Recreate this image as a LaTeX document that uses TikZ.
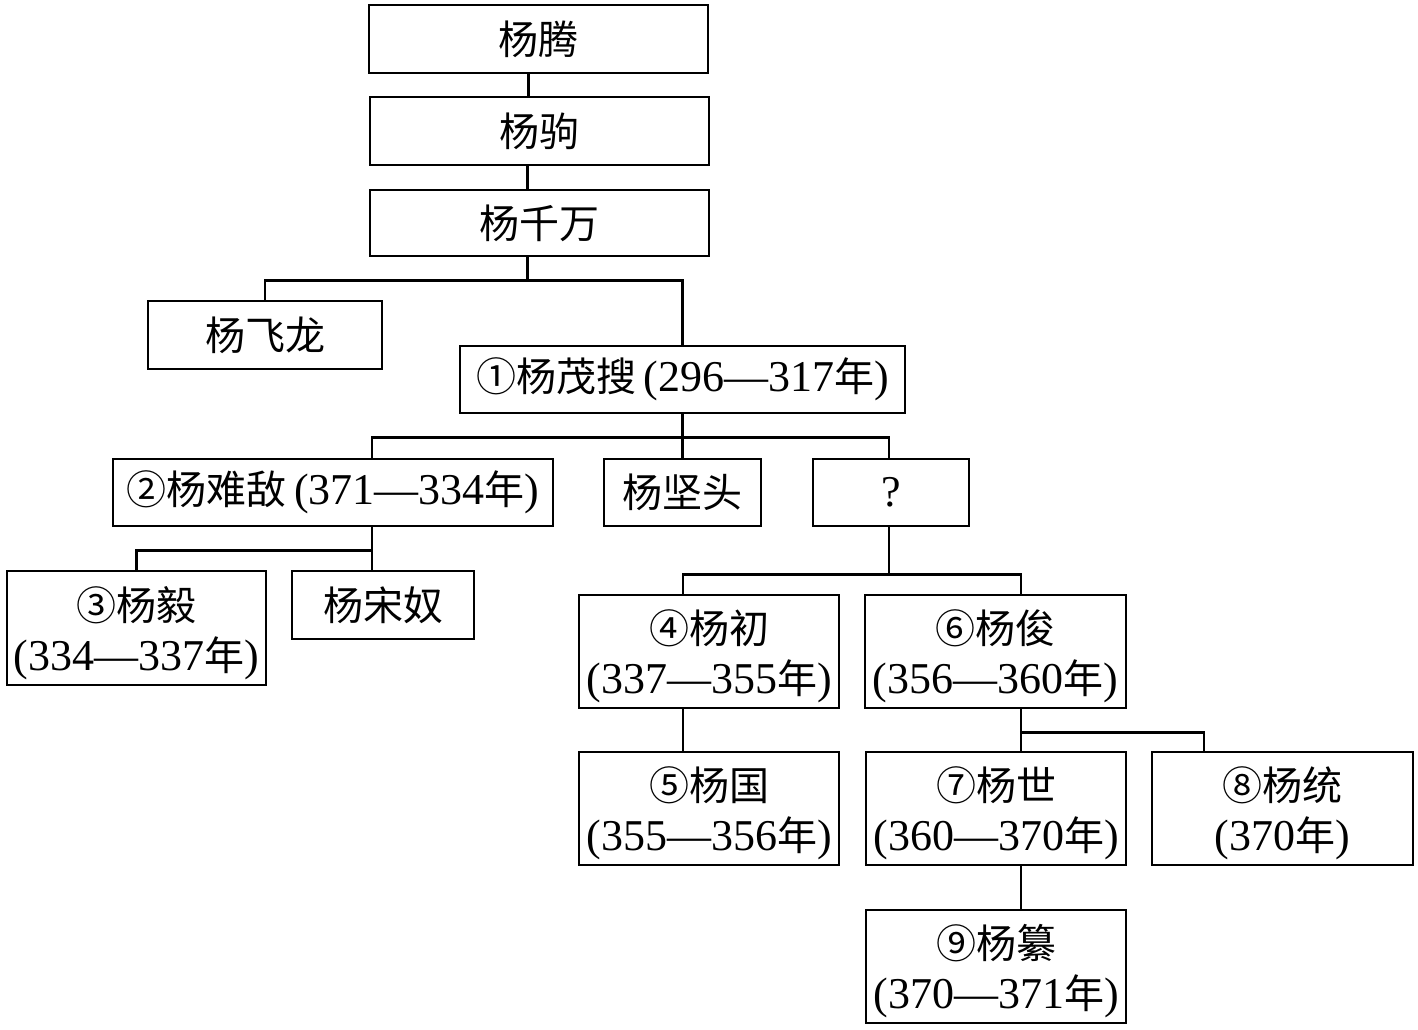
\documentclass[tikz,border=0pt]{standalone}
\usepackage{fontspec}
\setmainfont{Liberation Serif}
\newfontfamily\cjk{Noto Sans CJK SC}
\newcommand{\N}[1]{{\rmfamily\fontsize{44}{50}\selectfont #1}}
\newcommand{\T}{\rule{0pt}{44pt}}
\tikzset{
  bx/.style={draw, line width=2.6pt, inner sep=0pt, align=center, font=\fontsize{40}{50}\selectfont\cjk},
  ln/.style={line width=2.6pt}
}
\begin{document}
\begin{tikzpicture}[x=1pt,y=-1pt]
\useasboundingbox (0,0) rectangle (1418,1029);
\node[bx, minimum width=339, minimum height=68] (teng) at (538.5,39) {杨腾};
\node[bx, minimum width=339, minimum height=68] (ju) at (539.5,131) {杨驹};
\node[bx, minimum width=339, minimum height=66] (qw) at (539.5,223) {杨千万};
\node[bx, minimum width=234, minimum height=68] (fl) at (265,335) {杨飞龙};
\node[bx, minimum width=445, minimum height=67] (ms) at (682.5,379.5) {①杨茂搜\N{\,(296—317}年\N{)}};
\node[bx, minimum width=440, minimum height=67] (nd) at (333,492.5) {②杨难敌\N{\,(371—334}年\N{)}};
\node[bx, minimum width=157, minimum height=67] (jt) at (682.5,492.5) {杨坚头};
\node[bx, minimum width=156, minimum height=67] (q) at (891,492.5) {\N{?}};
\node[bx, minimum width=259, minimum height=114] (yi) at (136.5,628) {\T③杨毅\\\N{(334—337}年\N{)}};
\node[bx, minimum width=182, minimum height=68] (sn) at (383,605) {杨宋奴};
\node[bx, minimum width=260, minimum height=113] (chu) at (709,651.5) {\T④杨初\\\N{(337—355}年\N{)}};
\node[bx, minimum width=261, minimum height=113] (jun) at (995.5,651.5) {\T⑥杨俊\\\N{(356—360}年\N{)}};
\node[bx, minimum width=260, minimum height=113] (guo) at (709,808.5) {\T⑤杨国\\\N{(355—356}年\N{)}};
\node[bx, minimum width=260, minimum height=113] (shi) at (996,808.5) {\T⑦杨世\\\N{(360—370}年\N{)}};
\node[bx, minimum width=261, minimum height=113] (tong) at (1282.5,808.5) {\T⑧杨统\\\N{(370}年\N{)}};
\node[bx, minimum width=260, minimum height=113] (zuan) at (996,966.5) {\T⑨杨纂\\\N{(370—371}年\N{)}};
% connectors
\draw[ln] ([xshift=-10]teng.south) -- ([xshift=-11]ju.north);
\draw[ln] ([xshift=-12]ju.south) -- ([xshift=-12]qw.north);
\draw[ln] ([xshift=-12]qw.south) -- ++(0,23) -| (fl.north);
\draw[ln] ([xshift=-12]qw.south) -- ++(0,23) -| (ms.north);
\draw[ln] (ms.south) -- ++(0,23) -| ([xshift=39]nd.north);
\draw[ln] (ms.south) -- (jt.north);
\draw[ln] (ms.south) -- ++(0,23) -| ([xshift=-2]q.north);
\draw[ln] ([xshift=39]nd.south) -- ++(0,23) -| (yi.north);
\draw[ln] ([xshift=39]nd.south) -- ([xshift=-11]sn.north);
\draw[ln] ([xshift=-2]q.south) -- ++(0,47) -| ([xshift=-26]chu.north);
\draw[ln] ([xshift=-2]q.south) -- ++(0,47) -| ([xshift=25.5]jun.north);
\draw[ln] ([xshift=-26]chu.south) -- ([xshift=-26]guo.north);
\draw[ln] ([xshift=25.5]jun.south) -- ++(0,23) -| ([xshift=-78.5]tong.north);
\draw[ln] ([xshift=25.5]jun.south) -- ([xshift=25]shi.north);
\draw[ln] ([xshift=25]shi.south) -- ([xshift=25]zuan.north);
\end{tikzpicture}
\end{document}
